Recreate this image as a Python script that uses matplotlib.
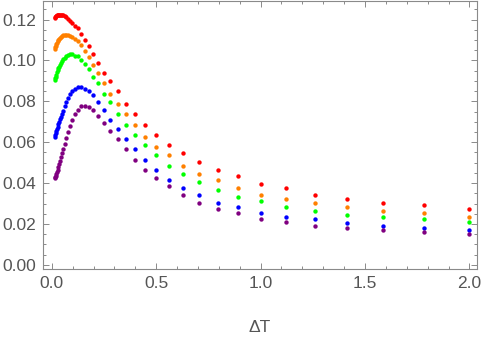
import numpy as np
import matplotlib.pyplot as plt
from matplotlib.ticker import MultipleLocator

# temperature step values
dT = [0.0156, 0.0175, 0.0197, 0.0221, 0.0248, 0.0278, 0.0313, 0.0351, 0.0394,
      0.0442, 0.0496, 0.0557, 0.0625, 0.0702, 0.0787, 0.0884, 0.0992, 0.1114,
      0.125, 0.1403, 0.1575, 0.1768, 0.1984, 0.2227, 0.25, 0.2806, 0.315,
      0.3536, 0.3969, 0.4454, 0.5, 0.5612, 0.63, 0.7071, 0.7937, 0.8909, 1.0,
      1.1225, 1.2599, 1.4142, 1.5874, 1.7818, 2.0]

red = [0.1210, 0.1213, 0.1217, 0.1220, 0.1222, 0.1224, 0.1225, 0.1225, 0.1225,
       0.1225, 0.1224, 0.1222, 0.1218, 0.1212, 0.1205, 0.1195, 0.1185, 0.1170,
       0.1160, 0.1131, 0.1102, 0.1071, 0.1031, 0.0990, 0.0940, 0.0900, 0.0850,
       0.0788, 0.0738, 0.0686, 0.0636, 0.0586, 0.0546, 0.0505, 0.0465, 0.0434,
       0.0394, 0.0374, 0.0343, 0.0323, 0.0303, 0.0293, 0.0272]

orange = [0.1058, 0.1065, 0.1072, 0.1080, 0.1088, 0.1094, 0.1100, 0.1105, 0.1110,
          0.1115, 0.1120, 0.1123, 0.1126, 0.1127, 0.1126, 0.1122, 0.1115, 0.1105,
          0.1095, 0.1075, 0.1045, 0.1015, 0.0978, 0.0940, 0.0889, 0.0838, 0.0788,
          0.0738, 0.0686, 0.0627, 0.0576, 0.0536, 0.0486, 0.0445, 0.0415, 0.0374,
          0.0343, 0.0324, 0.0303, 0.0284, 0.0263, 0.0253, 0.0234]

green = [0.0905, 0.0912, 0.0920, 0.0930, 0.0942, 0.0952, 0.0962, 0.0970, 0.0978,
         0.0988, 0.0996, 0.1005, 0.1012, 0.1020, 0.1026, 0.1032, 0.1030, 0.1024,
         0.1020, 0.1000, 0.0982, 0.0960, 0.0920, 0.0888, 0.0838, 0.0798, 0.0738,
         0.0686, 0.0636, 0.0586, 0.0536, 0.0486, 0.0445, 0.0405, 0.0365, 0.0334,
         0.0313, 0.0284, 0.0263, 0.0243, 0.0232, 0.0222, 0.0212]

blue = [0.0628, 0.0636, 0.0645, 0.0655, 0.0665, 0.0676, 0.0690, 0.0700, 0.0712,
        0.0725, 0.0740, 0.0755, 0.0775, 0.0795, 0.0815, 0.0835, 0.0850, 0.0862,
        0.0868, 0.0868, 0.0862, 0.0850, 0.0830, 0.0795, 0.0758, 0.0707, 0.0667,
        0.0617, 0.0565, 0.0515, 0.0465, 0.0415, 0.0374, 0.0343, 0.0303, 0.0284,
        0.0253, 0.0234, 0.0222, 0.0203, 0.0192, 0.0182, 0.0172]

purple = [0.0425, 0.0430, 0.0437, 0.0445, 0.0455, 0.0466, 0.0480, 0.0495, 0.0510,
          0.0527, 0.0545, 0.0565, 0.0590, 0.0620, 0.0650, 0.0680, 0.0710, 0.0740,
          0.0760, 0.0775, 0.0778, 0.0770, 0.0758, 0.0730, 0.0696, 0.0657, 0.0617,
          0.0565, 0.0515, 0.0465, 0.0424, 0.0384, 0.0343, 0.0303, 0.0272, 0.0253,
          0.0222, 0.0212, 0.0192, 0.0182, 0.0172, 0.0161, 0.0151]

series = [red, orange, green, blue, purple]
colors = ['#ff0000', '#ff8000', '#00ff00', '#0000ff', '#800080']

plt.rcParams['font.family'] = ['Liberation Sans', 'DejaVu Sans']
frame_col = '#8a8a8a'
text_col = '#555555'

fig = plt.figure(figsize=(4.86, 3.4), dpi=100)
ax = fig.add_axes([0.088, 0.209, 0.893, 0.788])

for ys, c in zip(series, colors):
    ax.scatter(dT, ys, s=10, color=c, linewidths=0, zorder=3)

ax.set_xlim(-0.043, 2.035)
ax.set_ylim(-0.002, 0.1291)
ax.xaxis.set_major_locator(MultipleLocator(0.5))
ax.xaxis.set_minor_locator(MultipleLocator(0.1))
ax.yaxis.set_major_locator(MultipleLocator(0.02))
ax.yaxis.set_minor_locator(MultipleLocator(0.005))
ax.xaxis.set_major_formatter(plt.FormatStrFormatter('%.1f'))
ax.yaxis.set_major_formatter(plt.FormatStrFormatter('%.2f'))

for sp in ax.spines.values():
    sp.set_color(frame_col)
    sp.set_linewidth(0.8)
ax.tick_params(which='both', direction='in', top=True, right=True,
               color=frame_col, width=0.7, labelcolor=text_col, labelsize=12.5)
ax.tick_params(which='major', length=4, pad=5)
ax.tick_params(which='minor', length=2.2)

ax.set_xlabel('ΔT', color=text_col, fontsize=12.5, labelpad=21)

fig.savefig('out.png', dpi=100)
